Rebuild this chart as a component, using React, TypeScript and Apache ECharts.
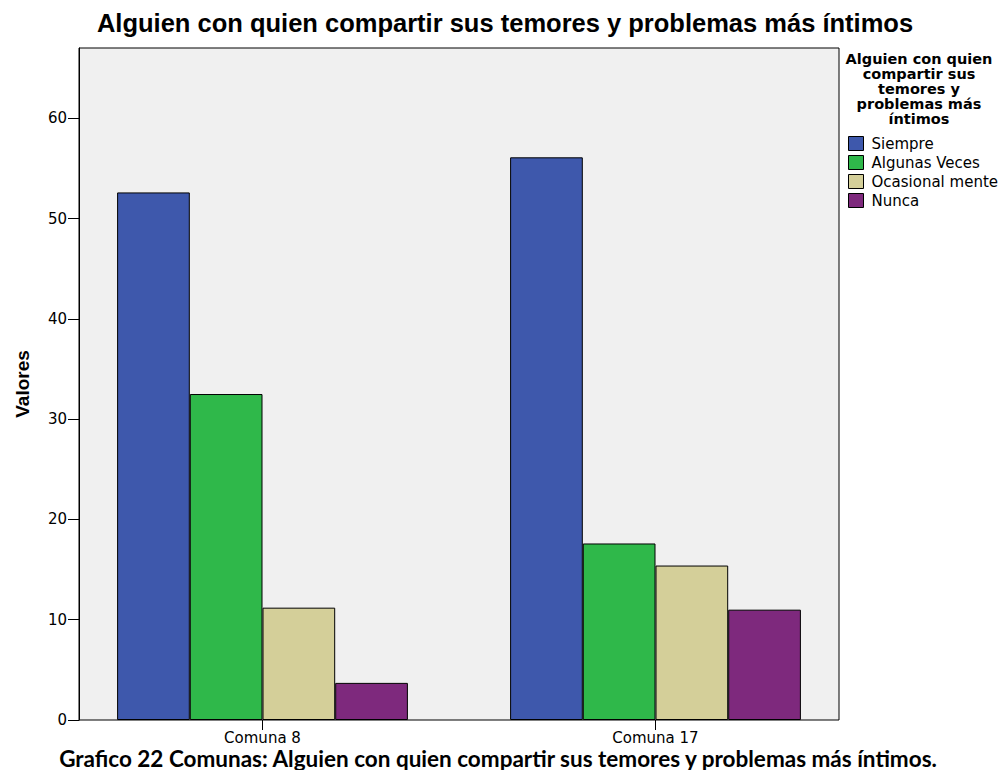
import React, { useEffect, useRef } from "react";
import * as echarts from "echarts";

const categories = ["Comuna 8", "Comuna 17"];
const seriesNames = ["Siempre", "Algunas Veces", "Ocasional mente", "Nunca"];
const siempre = [52.6, 56.1];
const algunasVeces = [32.5, 17.6];
const ocasionalmente = [11.2, 15.4];
const nunca = [3.7, 11.0];
const yTicks = [0, 10, 20, 30, 40, 50, 60];
const colors = ["#3e58ac", "#2fb84a", "#d4cf99", "#7e297d"];

const titleText = "Alguien con quien compartir sus temores y problemas más íntimos";
const legendTitle = "Alguien con quien\ncompartir sus\ntemores y\nproblemas más\níntimos";
const captionText = "Grafico 22 Comunas: Alguien con quien compartir sus temores y problemas más íntimos.";
const yName = "Valores";

export default function App() {
  const ref = useRef<HTMLDivElement>(null);
  useEffect(() => {
    if (!ref.current) return;
    const chart = echarts.init(ref.current, null, { renderer: "svg" });
    const seriesData = [siempre, algunasVeces, ocasionalmente, nunca];
    chart.setOption({
      animation: false,
      backgroundColor: "#ffffff",
      grid: [
        {
          left: 79, width: 760, top: 48, height: 672,
          show: true, backgroundColor: "#f0f0f0", borderColor: "#000", borderWidth: 1,
        },
        { left: 66, width: 786, top: 48, height: 672 },
      ],
      xAxis: [
        { gridIndex: 0, type: "value", min: 0, max: 1, show: false },
        {
          gridIndex: 1, type: "category", data: categories,
          axisLine: { show: false },
          axisTick: { show: true, alignWithLabel: true, length: 10, lineStyle: { color: "#000", width: 1 } },
          axisLabel: { color: "#000", fontSize: 15, lineHeight: 15, fontFamily: "DejaVu Sans", margin: 10 },
          splitLine: { show: false },
        },
      ],
      yAxis: [
        {
          gridIndex: 0, type: "value", min: 0, max: 67, interval: 10,
          axisLine: { show: true, lineStyle: { color: "#000", width: 1 } },
          axisTick: { show: true, length: 11, lineStyle: { color: "#000" }, customValues: yTicks },
          axisLabel: { color: "#000", fontSize: 15, fontFamily: "DejaVu Sans", margin: 12, customValues: yTicks },
          splitLine: { show: false },
        },
        { gridIndex: 1, type: "value", min: 0, max: 67, show: false },
      ],
      legend: {
        orient: "vertical", left: 843, top: 131,
        itemWidth: 15, itemHeight: 14, itemGap: 4, icon: "rect",
        itemStyle: { borderColor: "#000", borderWidth: 1 },
        textStyle: { color: "#000", fontSize: 15, fontFamily: "DejaVu Sans", padding: [0, 0, 0, 3] },
        data: seriesNames,
      },
      series: seriesNames.map((name, i) => ({
        name, type: "bar", xAxisIndex: 1, yAxisIndex: 1,
        data: seriesData[i], barWidth: 72.7, barGap: "0%",
        itemStyle: { color: colors[i], borderColor: "#000", borderWidth: 1 },
      })),
      graphic: [
        {
          type: "text", x: 505, y: 23,
          style: { text: titleText, align: "center", verticalAlign: "middle", fill: "#000",
            font: "bold 25.5px 'Liberation Sans', Arial, sans-serif" },
        },
        {
          type: "text", x: 919, y: 51,
          style: { text: legendTitle, align: "center", verticalAlign: "top", fill: "#000", lineHeight: 15,
            font: "bold 14.5px 'DejaVu Sans', sans-serif" },
        },
        {
          type: "text", x: 22, y: 384, rotation: Math.PI / 2,
          style: { text: yName, align: "center", verticalAlign: "middle", fill: "#000",
            font: "bold 19px 'Liberation Sans', Arial, sans-serif" },
        },
        {
          type: "text", x: 498, y: 758,
          style: { text: captionText, align: "center", verticalAlign: "middle", fill: "#000", lineHeight: 20,
            font: "bold 22.5px Lato, 'Open Sans', sans-serif" },
        },
      ],
    });
    return () => chart.dispose();
  }, []);
  return <div ref={ref} style={{ position: "absolute", left: 0, top: 0, width: 1000, height: 770 }} />;
}
